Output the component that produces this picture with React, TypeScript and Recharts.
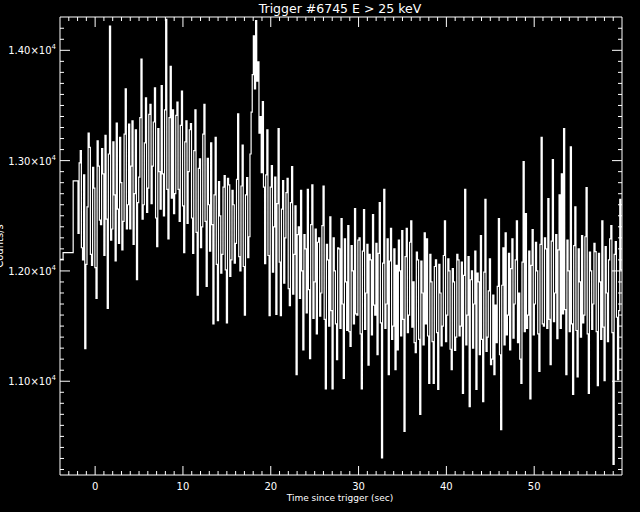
import React from "react";
import { LineChart, Line, XAxis, YAxis } from "recharts";

// coarse pre-trigger bins (start time, counts/s)
const coarseTimes = [-4, -3.65, -2.5];
const coarseCounts = [12105, 12166, 12816];

// fine bins start here, 0.128 s each
const fineStart = -1.95;
const binWidth = 0.128;
const fineCounts = [
  12340, 12980, 13090, 12210, 12100, 12870, 11295, 12060, 12580, 13250, 13120, 12150, 12050, 12940, 12750, 12030, 11750, 13180, 12950, 12460,
  12420, 13110, 12880, 12140, 13230, 12470, 11660, 13060, 14220, 12280, 12380, 13170, 12690, 12090, 13340, 12560, 12250, 13210, 12800, 12190,
  12450, 13240, 13650, 12380, 12600, 13330, 12380, 12950, 13360, 12240, 12700, 13280, 11920, 12620, 12850, 13390, 13920, 12470, 12600, 13160,
  13570, 12530, 12750, 13420, 13510, 12610, 12950, 13350, 13660, 12480, 12220, 13290, 12900, 12560, 13680, 12880, 12500, 13460, 14280, 12740,
  12290, 13390, 13855, 12660, 13460, 12520, 12700, 13410, 13530, 12740, 12450, 13320, 13630, 12590, 12165, 13170, 13360, 12430, 12900, 13280,
  13335, 12480, 12160, 13090, 13460, 12350, 11780, 12930, 13015, 12210, 12400, 13240, 13510, 12450, 11860, 13020, 12600, 12180, 13160, 12420,
  11520, 12690, 13210, 12060, 11550, 12810, 12500, 11980, 12150, 12760, 12865, 12010, 11530, 12840, 12780, 11950, 12100, 12730, 12600, 12070,
  12250, 12830, 13425, 12130, 12000, 12770, 13140, 12040, 11600, 12690, 12845, 12120, 12310, 13060, 13440, 13780, 14130, 13650, 14270, 13720,
  13895, 13250, 13400, 12890, 13535, 12760, 12065, 12870, 13280, 12140, 11595, 12760, 12955, 11990, 12400, 12850, 11605, 12610, 13290, 12080,
  11595, 12560, 12820, 11890, 12300, 12710, 12840, 11840, 11685, 12620, 12945, 11790, 12150, 12590, 11060, 12330, 12400, 11750, 12730, 12000,
  11285, 12330, 12200, 11620, 12740, 11830, 11205, 12420, 12780, 11570, 11900, 12380, 11430, 12260, 12300, 11590, 11800, 12410, 12770, 11560,
  10930, 12240, 12100, 11500, 12490, 11640, 10930, 12300, 12000, 11520, 11195, 12210, 12200, 11480, 12475, 11700, 11025, 12290, 11900, 11460,
  12410, 11450, 11315, 12230, 12000, 11520, 12565, 11610, 11600, 12280, 12300, 11430, 10930, 12180, 12555, 11470, 11800, 12240, 11145, 12150,
  12100, 11420, 12510, 11690, 11600, 12250, 11240, 12160, 12620, 11530, 10305, 12070, 12740, 11480, 11700, 12290, 11060, 12090, 12385, 11380,
  11500, 12200, 11105, 12050, 11285, 12280, 12000, 11410, 12365, 11560, 10545, 12130, 12385, 11440, 11600, 12260, 12455, 11490, 11900, 11350,
  11260, 12170, 12100, 11380, 10700, 12090, 11800, 11330, 12345, 11520, 12290, 11410, 10980, 12150, 11900, 11360, 10980, 12040, 12100, 11440,
  10925, 12060, 11800, 11320, 11500, 12140, 12455, 11360, 11600, 12110, 12000, 11290, 11105, 12020, 11900, 11280, 11400, 12150, 12100, 11410,
  11500, 12080, 10890, 11960, 12740, 11330, 11600, 12130, 10770, 11920, 12000, 11300, 11700, 12180, 10925, 11980, 11900, 11240, 12320, 11380,
  10815, 11990, 12650, 11270, 11400, 11820, 12110, 11150, 11200, 11780, 11060, 11690, 11350, 11860, 12475, 11240, 10560, 11870, 12210, 11330,
  12345, 11420, 11600, 12160, 11285, 12020, 12290, 11390, 11700, 12100, 12455, 11350, 11800, 11200, 10980, 12080, 12990, 11450, 12520, 11480,
  11600, 12180, 10840, 12050, 12375, 11420, 11700, 12260, 12000, 11430, 11090, 12240, 13210, 11520, 11500, 12300, 12200, 11480, 12655, 11560,
  11150, 12270, 13010, 11540, 11800, 12330, 11385, 12190, 12690, 11480, 12880, 11610, 13290, 11650, 11060, 12280, 12000, 11450, 13125, 11520,
  10880, 12230, 12580, 11460, 11040, 12200, 11900, 11400, 12320, 11530, 11600, 12310, 12755, 11430, 10890, 12170, 12000, 11470, 11700, 12250,
  12175, 11450, 10960, 12160, 11900, 11380, 12455, 11490, 11005, 12220, 11800, 11360, 12100, 12290, 12410, 11440, 10245, 12150, 12265, 11580,
  11015, 11640, 12650, 12010,
];

const xDomain = [-4, 60];
const yDomain = [10150, 14302];
const xMajor = [0, 10, 20, 30, 40, 50];
const yMajor = [11000, 12000, 13000, 14000];

const xTicks: number[] = [];
for (let t = -3; t <= 59; t++) xTicks.push(t);
const yTicks: number[] = [];
for (let v = 10200; v <= 14200; v += 100) yTicks.push(v);

const data = [
  ...coarseTimes.map((t, i) => ({ t, v: coarseCounts[i] })),
  ...fineCounts.map((v, i) => ({ t: fineStart + i * binWidth, v })),
  { t: 60, v: fineCounts[fineCounts.length - 1] },
];

const FONT = "'DejaVu Sans', sans-serif";

function BottomTick(p: any) {
  const v = p.payload.value;
  const major = xMajor.includes(v);
  return (
    <g>
      <line x1={p.x} x2={p.x} y1={p.y} y2={p.y - (major ? 9 : 4)} stroke="#fff" />
      {major && (
        <text x={p.x} y={p.y + 15} fill="#fff" fontSize={10} textAnchor="middle" fontFamily={FONT}>
          {v}
        </text>
      )}
    </g>
  );
}

function TopTick(p: any) {
  const major = xMajor.includes(p.payload.value);
  return <line x1={p.x} x2={p.x} y1={p.y} y2={p.y + (major ? 10 : 4)} stroke="#fff" />;
}

function LeftTick(p: any) {
  const v = p.payload.value;
  const major = yMajor.includes(v);
  return (
    <g>
      <line x1={p.x} x2={p.x + (major ? 10 : 4)} y1={p.y} y2={p.y} stroke="#fff" />
      {major && (
        <text x={p.x - 4} y={p.y + 4} fill="#fff" fontSize={10} textAnchor="end" fontFamily={FONT}>
          {(v / 10000).toFixed(2)}×10
          <tspan fontSize={7} dy={-5}>4</tspan>
        </text>
      )}
    </g>
  );
}

function RightTick(p: any) {
  const major = yMajor.includes(p.payload.value);
  return <line x1={p.x} x2={p.x - (major ? 10 : 4)} y1={p.y} y2={p.y} stroke="#fff" />;
}

export default function App() {
  return (
    <div style={{ position: "absolute", left: 0, top: 0, width: 640, height: 512, background: "#000" }}>
      <LineChart width={640} height={512} data={data} margin={{ top: 0, right: 0, bottom: 0, left: 0 }}>
        <XAxis
          xAxisId="b"
          dataKey="t"
          type="number"
          domain={xDomain}
          allowDataOverflow
          ticks={xTicks}
          interval={0}
          tick={BottomTick}
          tickLine={false}
          tickSize={0}
          tickMargin={0}
          height={37}
          axisLine={{ stroke: "#fff" }}
        />
        <XAxis
          xAxisId="t"
          orientation="top"
          dataKey="t"
          type="number"
          domain={xDomain}
          allowDataOverflow
          ticks={xTicks}
          interval={0}
          tick={TopTick}
          tickLine={false}
          tickSize={0}
          tickMargin={0}
          height={17}
          axisLine={{ stroke: "#fff" }}
        />
        <YAxis
          yAxisId="l"
          type="number"
          domain={yDomain}
          allowDataOverflow
          ticks={yTicks}
          interval={0}
          tick={LeftTick}
          tickLine={false}
          tickSize={0}
          tickMargin={0}
          width={60}
          axisLine={{ stroke: "#fff" }}
        />
        <YAxis
          yAxisId="r"
          orientation="right"
          type="number"
          domain={yDomain}
          allowDataOverflow
          ticks={yTicks}
          interval={0}
          tick={RightTick}
          tickLine={false}
          tickSize={0}
          tickMargin={0}
          width={18}
          axisLine={{ stroke: "#fff" }}
        />
        <Line
          xAxisId="b"
          yAxisId="l"
          type="stepAfter"
          dataKey="v"
          stroke="#fff"
          strokeWidth={1.2}
          dot={false}
          isAnimationActive={false}
        />
      </LineChart>
      <svg width={640} height={512} style={{ position: "absolute", left: 0, top: 0, pointerEvents: "none" }}>
        <text x={340} y={13} fill="#fff" fontSize={12.5} textAnchor="middle" fontFamily={FONT}>
          Trigger #6745 E &gt; 25 keV
        </text>
        <text x={340} y={501} fill="#fff" fontSize={9} textAnchor="middle" fontFamily={FONT}>
          Time since trigger (sec)
        </text>
        <text x={3} y={246} fill="#fff" fontSize={10} textAnchor="middle" fontFamily={FONT} transform="rotate(-90 3 246)">
          Counts/s
        </text>
      </svg>
    </div>
  );
}
